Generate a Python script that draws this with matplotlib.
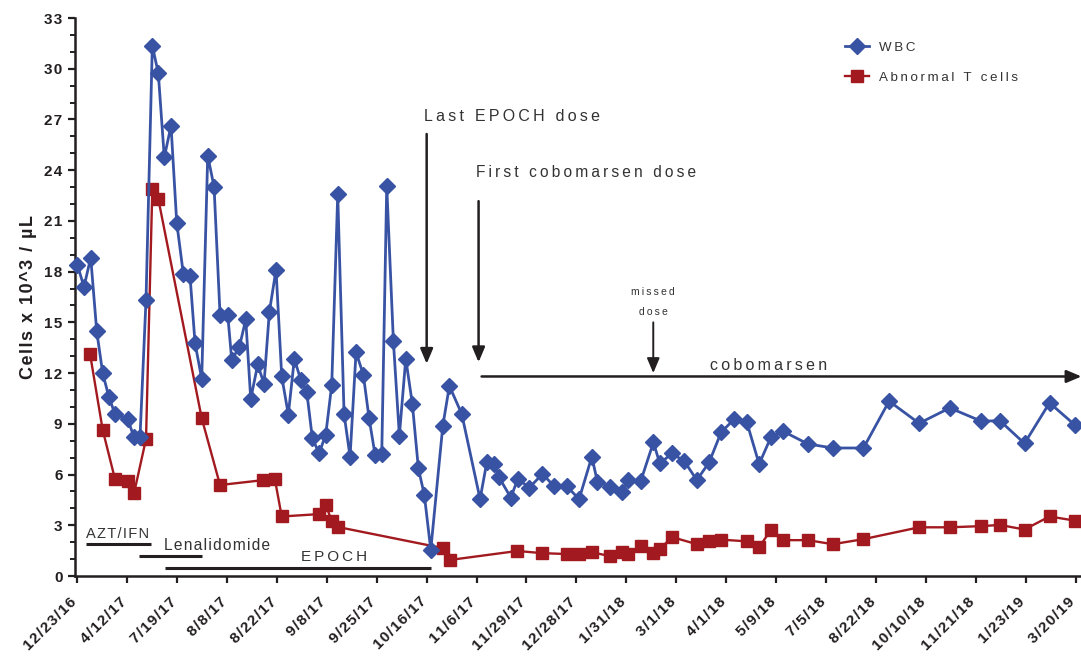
import matplotlib
matplotlib.use("Agg")
import matplotlib.pyplot as plt
from matplotlib.ticker import MultipleLocator

plt.rcParams['font.family'] = ['Liberation Sans', 'DejaVu Sans']

# ---------------- data ----------------
tick_labels = ["12/23/16", "4/12/17", "7/19/17", "8/8/17", "8/22/17", "9/8/17",
               "9/25/17", "10/16/17", "11/6/17", "11/29/17", "12/28/17", "1/31/18",
               "3/1/18", "4/1/18", "5/9/18", "7/5/18", "8/22/18", "10/10/18",
               "11/21/18", "1/23/19", "3/20/19"]

# positions in units of tick spacing
wbc_x = [0.00, 0.134, 0.269, 0.389, 0.509, 0.635, 0.755, 1.010, 1.136, 1.257,
         1.377, 1.503, 1.623, 1.743, 1.878, 1.992, 2.124, 2.259, 2.359, 2.493,
         2.613, 2.740, 2.860, 3.014, 3.094, 3.246, 3.375, 3.475, 3.615, 3.741,
         3.848, 3.982, 4.096, 4.228, 4.349, 4.477, 4.597, 4.709, 4.844, 4.978,
         5.098, 5.218, 5.345, 5.465, 5.585, 5.731, 5.846, 5.966, 6.100, 6.200,
         6.333, 6.453, 6.581, 6.713, 6.834, 6.954, 7.082, 7.323, 7.455, 7.703,
         8.070, 8.204, 8.351, 8.451, 8.685, 8.826, 9.058, 9.319, 9.559, 9.808,
         10.054, 10.309, 10.421, 10.675, 10.922, 11.042, 11.291, 11.543, 11.671, 11.918,
         12.164, 12.413, 12.659, 12.900, 13.166, 13.415, 13.661, 13.902, 14.148, 14.637,
         15.138, 15.752, 16.265, 16.866, 17.481, 18.116, 18.483, 18.978, 19.479, 19.980]
wbc_y = [18.42, 17.1, 18.83, 14.48, 11.99, 10.57, 9.58, 9.29, 8.2, 8.24,
         16.35, 31.36, 29.74, 24.76, 26.63, 20.9, 17.88, 17.72, 13.77, 11.66,
         24.86, 23.02, 15.45, 15.45, 12.79, 13.53, 15.17, 10.47, 12.51, 11.36,
         15.61, 18.12, 11.8, 9.55, 12.85, 11.6, 10.9, 8.16, 7.25, 8.36,
         11.3, 22.57, 9.58, 7.05, 13.24, 11.9, 9.33, 7.17, 7.21, 23.06,
         13.89, 8.3, 12.85, 10.18, 6.36, 4.78, 1.54, 8.87, 11.24, 9.58,
         4.55, 6.72, 6.62, 5.83, 4.64, 5.73, 5.23, 6.03, 5.3, 5.3,
         4.55, 7.05, 5.57, 5.28, 4.94, 5.69, 5.63, 7.9, 6.66, 7.25,
         6.78, 5.67, 6.72, 8.5, 9.29, 9.09, 6.62, 8.24, 8.55, 7.81,
         7.57, 7.57, 10.34, 9.03, 9.94, 9.15, 9.19, 7.84, 10.24, 8.95]

tcell_x = [0.255, 0.509, 0.755, 1.010, 1.136, 1.377, 1.503, 1.623, 2.493, 2.860,
           3.727, 3.958, 4.096, 4.844, 4.978, 5.098, 5.218, 7.323, 7.469, 8.818,
           9.319, 9.808, 10.054, 10.309, 10.675, 10.922, 11.042, 11.291, 11.543, 11.671,
           11.918, 12.413, 12.659, 12.900, 13.415, 13.661, 13.902, 14.148, 14.637, 15.138,
           15.752, 16.866, 17.481, 18.116, 18.483, 18.978, 19.479, 19.980]
tcell_y = [13.14, 8.64, 5.73, 5.59, 4.88, 8.1, 22.86, 22.3, 9.33, 5.38,
           5.67, 5.73, 3.52, 3.66, 4.19, 3.26, 2.9, 1.65, 0.95, 1.48,
           1.35, 1.3, 1.3, 1.4, 1.18, 1.4, 1.33, 1.8, 1.38, 1.6,
           2.3, 1.88, 2.05, 2.15, 2.05, 1.7, 2.75, 2.12, 2.12, 1.88,
           2.18, 2.88, 2.88, 2.95, 3.02, 2.75, 3.52, 3.28]

BLUE = '#3953A4'
RED = '#A21A1F'
DARK = '#231F20'
TXT = '#333333'


def sp(s, ch='\u200a'):
    return ch.join(s)


fig = plt.figure(figsize=(10.81, 6.64), dpi=100)
ax = fig.add_axes([75 / 1081, 1 - 576 / 664, 1 - 75 / 1081, (576 - 18) / 664])

ax.plot(wbc_x, wbc_y, color=BLUE, lw=2.0, marker='D', ms=8.5, mec=BLUE, mfc=BLUE,
        label=sp('WBC', '\u2009'), zorder=4, clip_on=False)
ax.plot(tcell_x, tcell_y, color=RED, lw=1.7, marker='s', ms=8.5, mec=RED, mfc=RED,
        label=sp('Abnormal T cells', '\u2009'), zorder=3, clip_on=False)

ax.set_xlim(-0.046, 20.11)
ax.set_ylim(0, 33)

ax.spines['top'].set_visible(False)
ax.spines['right'].set_visible(False)
for s in ('left', 'bottom'):
    ax.spines[s].set_linewidth(1.8)
    ax.spines[s].set_color(DARK)

ax.yaxis.set_minor_locator(MultipleLocator(1))
ax.set_yticks(range(0, 34, 3))
ax.set_yticklabels([sp(str(v)) for v in range(0, 34, 3)], fontweight='bold', fontsize=11)
ax.set_xticks(range(len(tick_labels)))
ax.set_xticklabels([sp(t) for t in tick_labels], rotation=45, ha='right', va='baseline',
                   rotation_mode='anchor', fontweight='bold', fontsize=11)
ax.tick_params(axis='both', which='major', direction='out', length=5, width=1.6,
               color=DARK, labelcolor=DARK)
ax.tick_params(axis='y', which='major', pad=4)
ax.tick_params(axis='x', which='major', pad=14)
ax.tick_params(axis='y', which='minor', direction='out', length=3.5, width=1.4, color=DARK)

ax.set_ylabel(sp('Cells x 10^3 / µL'), fontweight='bold', fontsize=13, color=DARK,
              labelpad=5)

# treatment bars
ax.plot([0.18, 1.47], [1.88, 1.88], color=DARK, lw=2.2, solid_capstyle='butt')
ax.plot([1.24, 2.49], [1.19, 1.19], color=DARK, lw=2.2, solid_capstyle='butt')
ax.plot([1.76, 7.08], [0.49, 0.49], color=DARK, lw=2.2, solid_capstyle='butt')
ax.text(0.17, 2.23, sp('AZT/IFN', '\u200a'), fontsize=10.5, color=TXT, va='baseline')
ax.text(1.74, 1.52, sp('Lenalidomide', '\u200a'), fontsize=11.2, color=TXT, va='baseline')
ax.text(5.15, 0.89, sp('EPOCH', '\u2009'), fontsize=11, color=TXT, va='baseline', ha='center')

arrow_kw = dict(arrowstyle='-|>,head_length=0.9,head_width=0.38', color=DARK, lw=1.8,
                shrinkA=0, shrinkB=0)
ax.annotate('', xy=(7.0, 12.55), xytext=(7.0, 26.14), arrowprops=arrow_kw,
            annotation_clip=False)
ax.annotate('', xy=(8.04, 12.64), xytext=(8.04, 22.17), arrowprops=arrow_kw,
            annotation_clip=False)
ax.annotate('', xy=(11.54, 12.0), xytext=(11.54, 15.0),
            arrowprops=dict(arrowstyle='-|>,head_length=0.9,head_width=0.38', color=DARK,
                            lw=1.4, shrinkA=0, shrinkB=0),
            annotation_clip=False)
ax.annotate('', xy=(20.12, 11.8), xytext=(8.1, 11.8), arrowprops=arrow_kw,
            annotation_clip=False)

ax.text(6.95, 26.91, sp('Last EPOCH dose', '\u2009'), fontsize=11.5, color=TXT, va='baseline')
ax.text(7.98, 23.61, sp('First cobomarsen dose', '\u2009'), fontsize=11.2, color=TXT,
        va='baseline')
ax.text(11.54, 16.6, sp('missed', '\u2009'), fontsize=7.5, color=TXT, va='baseline', ha='center')
ax.text(11.54, 15.45, sp('dose', '\u2009'), fontsize=7.5, color=TXT, va='baseline', ha='center')
ax.text(13.86, 12.19, sp('cobomarsen', '\u2009'), fontsize=11.5, color=TXT, va='baseline',
        ha='center')

leg = ax.legend(loc='upper left', bbox_to_anchor=(838 / 1081, 1 - 35 / 664),
                bbox_transform=fig.transFigure, frameon=False, fontsize=9.6,
                handlelength=1.8, handletextpad=0.75, labelspacing=1.3, borderpad=0)
for t in leg.get_texts():
    t.set_color(TXT)

fig.savefig('out.png', dpi=100)
